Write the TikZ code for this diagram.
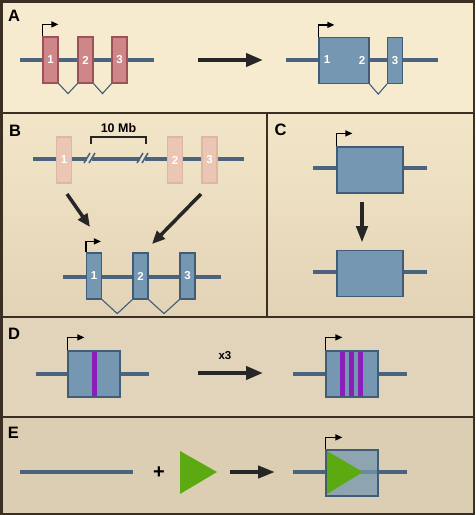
\documentclass[tikz,border=0pt]{standalone}
\usepackage{fontspec}
\setmainfont{Liberation Sans}
\usetikzlibrary{arrows.meta,positioning,calc}

\definecolor{geneline}{HTML}{4A6480}
\definecolor{exonblue}{HTML}{7697B1}
\definecolor{exonedge}{HTML}{3F5C78}
\definecolor{exonpink}{HTML}{CF8688}
\definecolor{pinkedge}{HTML}{9E5258}
\definecolor{fadepink}{HTML}{EBC6B4}
\definecolor{fadeedge}{HTML}{DDB6A4}
\definecolor{stripe}{HTML}{8B1DB8}
\definecolor{tri}{HTML}{5BAA12}
\definecolor{bgA}{HTML}{F7EBCF}
\definecolor{bgBtop}{HTML}{F3E6C8}
\definecolor{bgBbot}{HTML}{E3D3B6}
\definecolor{bgD}{HTML}{E2D4BA}
\definecolor{bgE}{HTML}{DCCEB2}
\definecolor{frame}{HTML}{3B2F24}

\tikzset{every picture/.style={line width=0.75pt}}
\tikzset{
  gene/.style={geneline, line width=3.5pt},
  exon/.style={draw=exonedge, fill=exonblue, line width=1.2pt, minimum width=15pt,
    minimum height=46pt, inner sep=0pt, text=white, font=\bfseries\fontsize{11.5}{11.5}\selectfont},
  pinkexon/.style={draw=pinkedge, fill=exonpink},
  fadeexon/.style={draw=fadeedge, fill=fadepink},
  num/.style={text=white, inner sep=0pt, font=\bfseries\fontsize{11.5}{11.5}\selectfont},
  splice/.style={exonedge, line width=1.1pt},
  promoter/.style={black, line width=1.3pt, -{Triangle[length=7pt,width=6pt]}},
  bigarrow/.style={black!85, line width=4pt, -{Triangle[length=17pt,width=13pt]}},
  midarrow/.style={black!85, line width=3.5pt, -{Triangle[length=13pt,width=11pt]}},
  panel/.style={inner sep=0pt, font=\bfseries\fontsize{16.5}{16.5}\selectfont},
  sep/.style={frame, line width=1.6pt},
  breakmark/.style={geneline, line width=1.6pt}
}

\begin{document}
\begin{tikzpicture}[x=1pt,y=-1pt]
\useasboundingbox (0,0) rectangle (475,515);
% backgrounds
\fill[bgA] (0,0) rectangle (475,113);
\shade[top color=bgBtop, bottom color=bgBbot] (0,113) rectangle (475,317);
\fill[bgD] (0,317) rectangle (475,417);
\fill[bgE] (0,417) rectangle (475,515);
\draw[sep] (0,113) -- (475,113);
\draw[sep] (267,113) -- (267,317);
\draw[sep] (0,317) -- (475,317);
\draw[sep] (0,417) -- (475,417);
\draw[frame, line width=2.5pt] (1.25,1.25) rectangle (473.75,513.75);

% panel A
\node[panel] (labA) at (14,15.5) {A};
\draw[gene] (20,60) -- (154,60);
\node[exon, pinkexon] (a1) at (50.5,60) {1};
\node[exon, pinkexon] (a2) at (85.5,60) {2};
\node[exon, pinkexon] (a3) at (119.5,60) {3};
\draw[splice] (a1.south east) -- ($(a1.south east)!.5!(a2.south west)+(0,10)$) -- (a2.south west);
\draw[splice] (a2.south east) -- ($(a2.south east)!.5!(a3.south west)+(0,10)$) -- (a3.south west);
\draw[promoter] (a1.north west) |- ++(16,-12);
\coordinate (arA1) at (198,60);
\coordinate (arA2) at (263,60);
\draw[bigarrow] (arA1) -- (arA2);
\draw[gene] (286,60) -- (438,60);
\node[exon, minimum width=50pt] (a12) at (344,60.5) {};
\node[num] (a12n1) at (327,60) {1};
\node[num] (a12n2) at (362,60) {2};
\node[exon] (a3r) at (395,60.5) {3};
\draw[splice] (a12.south east) -- ($(a12.south east)!.5!(a3r.south west)+(0,10)$) -- (a3r.south west);
\draw[promoter] (a12.north west) |- ++(16,-12);

% panel B
\node[panel] (labB) at (15,130.5) {B};
\draw[gene] (33,159) -- (87,159);
\draw[gene] (92,159) -- (140,159);
\draw[gene] (145,159) -- (244,159);
\draw[breakmark] (84,163) -- (90,153);
\draw[breakmark] (89,163) -- (95,153);
\draw[breakmark] (137,163) -- (143,153);
\draw[breakmark] (142,163) -- (148,153);
\node[exon, fadeexon] (b1) at (64,160) {1};
\node[exon, fadeexon] (b2) at (175,160) {2};
\node[exon, fadeexon] (b3) at (209.5,160) {3};
\draw[black!85, line width=2pt] (91,144) |- (146,137) -- (146,144);
\node[inner sep=0pt, font=\bfseries\fontsize{12.5}{12.5}\selectfont] (mb) at (118.5,128) {10 Mb};
\coordinate (arB1) at (67,194);
\coordinate (arB2) at (90,227);
\coordinate (arB3) at (201,194);
\coordinate (arB4) at (152,244);
\draw[midarrow] (arB1) -- (arB2);
\draw[midarrow] (arB3) -- (arB4);
\draw[gene] (63,277) -- (221,277);
\node[exon] (c1) at (94,276) {1};
\node[exon] (c2) at (140.5,276) {2};
\node[exon] (c3) at (187.5,276) {3};
\draw[splice] (c1.south east) -- ($(c1.south east)!.5!(c2.south west)+(0,14)$) -- (c2.south west);
\draw[splice] (c2.south east) -- ($(c2.south east)!.5!(c3.south west)+(0,14)$) -- (c3.south west);
\draw[promoter] (c1.north west) |- ++(15,-11);

% panel C
\node[panel] (labC) at (280.5,129.5) {C};
\draw[gene] (313,168) -- (427,168);
\node[exon, minimum width=66pt] (g1) at (370,170) {};
\draw[promoter] (g1.north west) |- ++(16,-13);
\coordinate (arC1) at (362,202);
\coordinate (arC2) at (362,243);
\draw[black!85, line width=4.5pt, -{Triangle[length=17pt,width=11pt]}] (arC1) -- (arC2);
\draw[gene] (313,272) -- (427,272);
\node[exon, minimum width=66pt] (g2) at (370,273.5) {};

% panel D
\node[panel] (labD) at (14,334) {D};
\draw[gene] (36,374) -- (149,374);
\node[exon, minimum width=52pt] (d1) at (94,374) {};
\fill[stripe] (92,351.6) rectangle (97,396.4);
\draw[promoter] (d1.north west) |- ++(17,-13);
\coordinate (arD1) at (198,373);
\coordinate (arD2) at (263,373);
\draw[bigarrow] (arD1) -- (arD2);
\node[inner sep=0pt, font=\bfseries\fontsize{11.5}{11.5}\selectfont] (x3) at (225,356) {x3};
\draw[gene] (293,374) -- (407,374);
\node[exon, minimum width=52pt] (d2) at (352,374) {};
\foreach \s in {342.5,351.5,360.5}
  \fill[stripe] (\s-2.5,351.6) rectangle (\s+2.5,396.4);
\draw[promoter] (d2.north west) |- ++(17,-13);

% panel E
\node[panel] (labE) at (13.5,432.5) {E};
\draw[gene] (20,472) -- (133,472);
\node[inner sep=0pt, font=\bfseries\fontsize{20}{20}\selectfont] (plus) at (159,473) {+};
\fill[tri] (180,451) -- (180,494) -- (217,472) -- cycle;
\coordinate (arE1) at (230,472);
\coordinate (arE2) at (275,472);
\draw[bigarrow, -{Triangle[length=17pt,width=12pt]}] (arE1) -- (arE2);
\draw[gene] (293,472) -- (407,472);
\node[exon, minimum width=52pt, fill opacity=0.75] (e1) at (352,473) {};
\fill[tri] (327,451) -- (327,494) -- (363,472) -- cycle;
\draw[promoter] (e1.north west) |- ++(17,-12);
\end{tikzpicture}
\end{document}
